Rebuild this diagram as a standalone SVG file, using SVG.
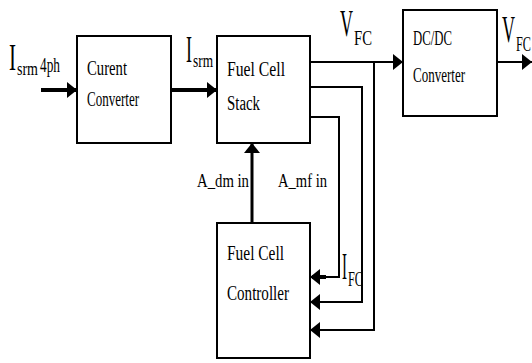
<svg xmlns="http://www.w3.org/2000/svg" width="532" height="363" viewBox="0 0 532 363">
<defs>
<style>
.box{fill:#fff;stroke:#000;stroke-width:2}
.t{font-family:"Liberation Serif","Times New Roman",serif;fill:#000;font-size:20px}
.big{font-size:38px}
.sub{font-size:18px}
.w{fill:none;stroke:#000;stroke-width:2}
.wt{fill:none;stroke:#000;stroke-width:4}
</style>
<marker id="ah" markerUnits="userSpaceOnUse" markerWidth="10" markerHeight="16" refX="10" refY="8" orient="auto">
<path d="M0,0 L10,8 L0,16 z" fill="#000"/>
</marker>
</defs>
<rect width="532" height="363" fill="#fff"/>
<g id="connectors">
<line class="wt" x1="41" y1="90" x2="77" y2="90" marker-end="url(#ah)"/>
<line class="wt" x1="171" y1="90" x2="217" y2="90" marker-end="url(#ah)"/>
<line class="w" x1="310" y1="62" x2="403" y2="62" marker-end="url(#ah)"/>
<line class="w" x1="497" y1="62" x2="532" y2="62" marker-end="url(#ah)"/>
<polyline class="w" points="374,62 374,330 310,330" marker-end="url(#ah)"/>
<polyline class="w" points="310,87 362,87 362,302 310,302" marker-end="url(#ah)"/>
<polyline class="w" points="310,117 339,117 339,277 310,277" marker-end="url(#ah)"/>
<line class="wt" x1="326" y1="277" x2="312" y2="277"/>
<line fill="none" stroke="#000" stroke-width="3" x1="252" y1="223" x2="252" y2="143" marker-end="url(#ah)"/>
</g>
<g id="current-converter">
<rect class="box" x="77" y="36" width="94" height="107"/>
<text class="t" x="87" y="75" textLength="40" lengthAdjust="spacingAndGlyphs">Curent</text>
<text class="t" x="87" y="106" textLength="52" lengthAdjust="spacingAndGlyphs">Converter</text>
</g>
<g id="fuel-cell-stack">
<rect class="box" x="217" y="36" width="93" height="107"/>
<text class="t" x="227" y="76" textLength="58" lengthAdjust="spacingAndGlyphs">Fuel Cell</text>
<text class="t" x="227" y="110" textLength="33" lengthAdjust="spacingAndGlyphs">Stack</text>
</g>
<g id="dcdc-converter">
<rect class="box" x="403" y="10" width="94" height="106"/>
<text class="t" x="413" y="45" textLength="39" lengthAdjust="spacingAndGlyphs">DC/DC</text>
<text class="t" x="413" y="82" textLength="52" lengthAdjust="spacingAndGlyphs">Converter</text>
</g>
<g id="fuel-cell-controller">
<rect class="box" x="217" y="223" width="93" height="135"/>
<text class="t" x="227" y="260" textLength="57" lengthAdjust="spacingAndGlyphs">Fuel Cell</text>
<text class="t" x="227" y="300" textLength="62" lengthAdjust="spacingAndGlyphs">Controller</text>
</g>
<g id="labels">
<text class="t" x="9" y="70"><tspan class="big" textLength="7" lengthAdjust="spacingAndGlyphs">I</tspan><tspan class="sub" x="17" y="75" textLength="21" lengthAdjust="spacingAndGlyphs">srm</tspan><tspan x="40" y="72" textLength="20" lengthAdjust="spacingAndGlyphs">4ph</tspan></text>
<text class="t" x="186" y="62"><tspan class="big" textLength="6" lengthAdjust="spacingAndGlyphs">I</tspan><tspan class="sub" x="193" y="67" textLength="20" lengthAdjust="spacingAndGlyphs">srm</tspan></text>
<text class="t" x="340" y="36"><tspan class="big" textLength="13" lengthAdjust="spacingAndGlyphs">V</tspan><tspan x="354" y="45" textLength="18" lengthAdjust="spacingAndGlyphs">FC</tspan></text>
<text class="t" x="502" y="42"><tspan class="big" textLength="13" lengthAdjust="spacingAndGlyphs">V</tspan><tspan x="516" y="51" textLength="15" lengthAdjust="spacingAndGlyphs">FC</tspan></text>
<text class="t" x="342" y="279"><tspan class="big" textLength="5" lengthAdjust="spacingAndGlyphs">I</tspan><tspan x="348" y="286" textLength="15" lengthAdjust="spacingAndGlyphs">FC</tspan></text>
<text class="t sub" x="197" y="187" textLength="52" lengthAdjust="spacingAndGlyphs">A_dm in</text>
<text class="t sub" x="278" y="187" textLength="49" lengthAdjust="spacingAndGlyphs">A_mf in</text>
</g>
</svg>
